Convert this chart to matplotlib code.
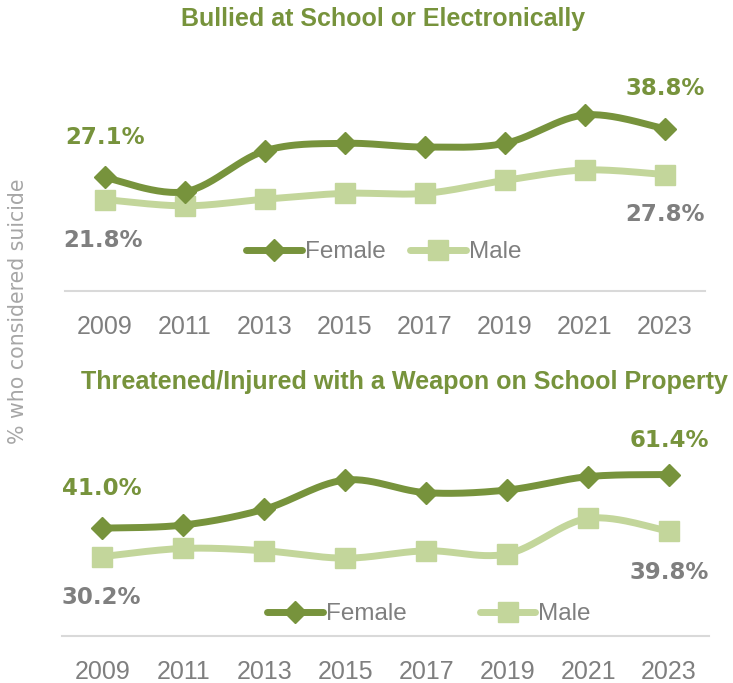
import numpy as np
import matplotlib
matplotlib.use('Agg')
import matplotlib.pyplot as plt
from matplotlib.lines import Line2D

years = ['2009', '2011', '2013', '2015', '2017', '2019', '2021', '2023']
bullied_female = [27.1, 23.7, 33.5, 35.3, 34.4, 35.3, 42.1, 38.8]
bullied_male = [21.8, 20.3, 21.9, 23.3, 23.3, 26.4, 28.9, 27.8]
weapon_female = [41.0, 42.2, 48.2, 59.3, 54.5, 55.5, 60.6, 61.4]
weapon_male = [30.2, 33.3, 32.4, 29.6, 32.4, 31.2, 44.7, 39.8]

titles = ['Bullied at School or Electronically',
          'Threatened/Injured with a Weapon on School Property']
ylabel = '% who considered suicide'

C_F = '#77933C'
C_M = '#C3D69B'
C_GRAY = '#7F7F7F'
FONT = 'Liberation Sans'

plt.rcParams['font.family'] = [FONT, 'DejaVu Sans']

W, H = 733, 683
LW = 5.0


def smooth(x, y, n=30):
    P = np.column_stack([np.asarray(x, float), np.asarray(y, float)])
    out = [P[0]]
    for i in range(len(P) - 1):
        p0 = P[i - 1] if i > 0 else P[i]
        p1, p2 = P[i], P[i + 1]
        p3 = P[i + 2] if i + 2 < len(P) else P[i + 1]
        c1 = p1 + (p2 - p0) / 6
        c2 = p2 - (p3 - p1) / 6
        t = np.linspace(0, 1, n)[1:, None]
        seg = (1 - t) ** 3 * p1 + 3 * (1 - t) ** 2 * t * c1 + 3 * (1 - t) * t ** 2 * c2 + t ** 3 * p2
        out.extend(seg)
    return np.array(out)


fig = plt.figure(figsize=(W / 100, H / 100), dpi=100)


def make_axes(left_px, right_px, base_px, top_px, ymin, ymax):
    ax = fig.add_axes([left_px / W, 1 - base_px / H, (right_px - left_px) / W, (base_px - top_px) / H])
    ax.set_xlim(-0.5, len(years) - 0.5)
    ax.set_ylim(ymin, ymax)
    for s in ['top', 'left', 'right']:
        ax.spines[s].set_visible(False)
    ax.spines['bottom'].set_color('#D9D9D9')
    ax.spines['bottom'].set_linewidth(1.5)
    ax.set_yticks([])
    ax.set_xticks(range(len(years)))
    ax.set_xticklabels(years)
    ax.tick_params(axis='x', length=0, pad=17.5, labelsize=18, labelcolor=C_GRAY)
    ax.patch.set_alpha(0)
    return ax


def draw(ax, female, male, offs, legend_center, colspace):
    x = np.arange(len(years))
    sm = smooth(x, male)
    ax.plot(sm[:, 0], sm[:, 1], color=C_M, lw=LW, solid_capstyle='round', zorder=2)
    ax.plot(x, male, ls='none', marker='s', ms=14, color=C_M, zorder=3)
    sf = smooth(x, female)
    ax.plot(sf[:, 0], sf[:, 1], color=C_F, lw=LW, solid_capstyle='round', zorder=4)
    ax.plot(x, female, ls='none', marker='D', ms=11, color=C_F, zorder=5)

    (f0, m0, f1, m1) = offs
    for (i, vals, off, col) in [(0, female, f0, C_F), (0, male, m0, C_GRAY),
                                (len(years) - 1, female, f1, C_F), (len(years) - 1, male, m1, C_GRAY)]:
        ax.annotate(f'{vals[i]:.1f}%', xy=(i, vals[i]), xytext=off, textcoords='offset pixels',
                    ha='center', va='center', fontsize=16.5, fontweight='bold', color=col,
                    family='DejaVu Sans', zorder=6)

    handles = [Line2D([], [], color=C_F, lw=LW, marker='D', ms=11, solid_capstyle='round'),
               Line2D([], [], color=C_M, lw=LW, marker='s', ms=14, solid_capstyle='round')]
    cx, cy = legend_center
    fig.legend(handles, ['Female', 'Male'], loc='center', bbox_to_anchor=(cx / W, 1 - cy / H),
               ncol=2, frameon=False, fontsize=17.5, labelcolor=C_GRAY, handlelength=2.3,
               handletextpad=0.12, columnspacing=colspace, borderpad=0, borderaxespad=0,
               numpoints=1)


ax1 = make_axes(65, 705, 290.5, 48, 0, (290.5 - 48) / 4.17)
draw(ax1, bullied_female, bullied_male,
     [(0, 40), (-2, -41), (0, 40), (0, -40)], (384, 252), 1.0)

ax2 = make_axes(62, 709.5, 636, 410, 0, (636 - 410) / 2.63)
draw(ax2, weapon_female, weapon_male,
     [(-1, 40), (-1, -41), (0, 34.5), (0, -41)], (429, 614), 3.0)

fig.text(383.5 / W, 1 - 19 / H, titles[0], ha='center', va='center', fontsize=18,
         fontweight='bold', color=C_F)
fig.text(404 / W, 1 - 382 / H, titles[1], ha='center', va='center', fontsize=18.1,
         fontweight='bold', color=C_F)
fig.text(18 / W, 1 - 311 / H, ylabel, rotation=90, ha='center', va='center', fontsize=14.8,
         color='#A6A6A6', family='DejaVu Sans')

fig.savefig('out.png', dpi=100)
